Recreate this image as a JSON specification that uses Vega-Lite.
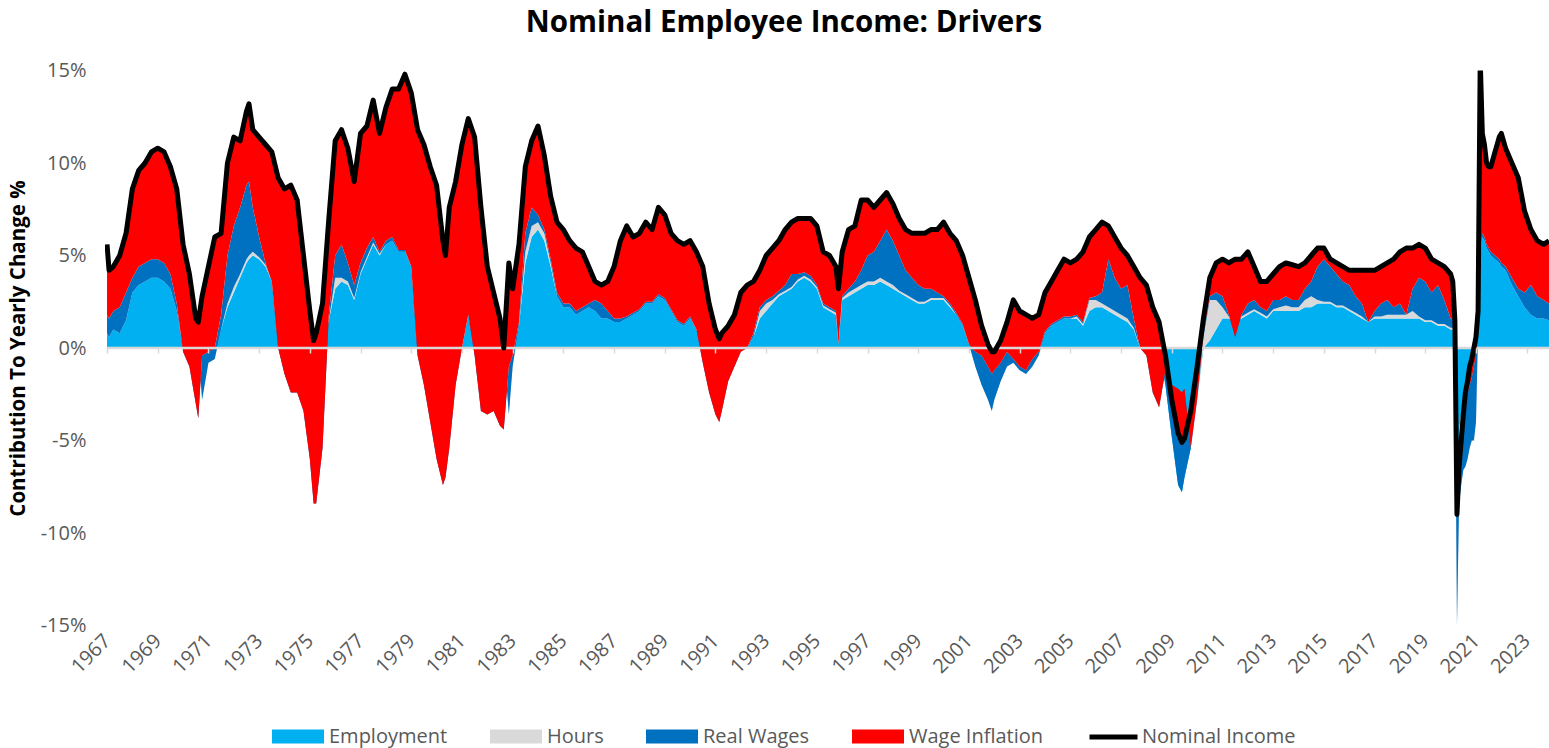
{
"$schema": "https://vega.github.io/schema/vega-lite/v6.json",
"width": 1444, "height": 555,
"autosize": {"type": "none"},
"padding": {"left": 105, "top": 70.5, "right": 0, "bottom": 122.5},
"background": "white",
"title": {"text": "Nominal Employee Income: Drivers", "font": "Open Sans", "fontSize": 29.5, "fontWeight": "bold", "color": "black", "anchor": "middle", "dx": -43, "offset": 22},
"config": {
  "view": {"stroke": null},
  "font": "Open Sans",
  "legend": {"labelFont": "Open Sans", "labelFontSize": 20, "labelColor": "#595959", "orient": "none", "direction": "horizontal", "title": null}
},
"data": {"values": [
{"t":1967.0,"e":0.8,"h":0.8,"r":1.8,"n":5.6},
{"t":1967.08,"e":0.6,"h":0.6,"r":1.6,"n":4.2},
{"t":1967.25,"e":1.0,"h":1.0,"r":2.0,"n":4.4},
{"t":1967.5,"e":0.8,"h":0.8,"r":2.2,"n":5.0},
{"t":1967.75,"e":1.5,"h":1.5,"r":3.0,"n":6.2},
{"t":1968.0,"e":3.0,"h":3.0,"r":3.8,"n":8.6},
{"t":1968.25,"e":3.4,"h":3.4,"r":4.4,"n":9.6},
{"t":1968.5,"e":3.6,"h":3.6,"r":4.6,"n":10.0},
{"t":1968.75,"e":3.8,"h":3.8,"r":4.8,"n":10.6},
{"t":1969.0,"e":3.8,"h":3.8,"r":4.8,"n":10.8},
{"t":1969.25,"e":3.6,"h":3.6,"r":4.6,"n":10.6},
{"t":1969.5,"e":3.2,"h":3.2,"r":4.0,"n":9.8},
{"t":1969.75,"e":2.0,"h":2.0,"r":2.4,"n":8.6},
{"t":1970.0,"e":0,"h":0,"r":-0.2,"n":5.6},
{"t":1970.25,"e":0,"h":0,"r":-1.0,"n":4.0},
{"t":1970.5,"e":0,"h":0,"r":-3.0,"n":1.6},
{"t":1970.6,"e":0,"h":0,"r":-3.8,"n":1.4},
{"t":1970.75,"e":0,"h":-2.8,"r":-0.4,"n":2.8},
{"t":1971.0,"e":0,"h":-0.8,"r":-0.2,"n":4.4},
{"t":1971.25,"e":0,"h":-0.6,"r":0,"n":6.0},
{"t":1971.5,"e":1.0,"h":1.0,"r":1.8,"n":6.2},
{"t":1971.75,"e":2.2,"h":2.4,"r":5.0,"n":10.0},
{"t":1972.0,"e":3.0,"h":3.3,"r":6.6,"n":11.4},
{"t":1972.25,"e":3.8,"h":4.0,"r":7.6,"n":11.2},
{"t":1972.5,"e":4.6,"h":4.8,"r":8.8,"n":12.8},
{"t":1972.6,"e":4.8,"h":5.0,"r":9.0,"n":13.2},
{"t":1972.75,"e":5.0,"h":5.2,"r":7.6,"n":11.8},
{"t":1973.0,"e":4.8,"h":4.9,"r":6.0,"n":11.4},
{"t":1973.25,"e":4.4,"h":4.5,"r":4.6,"n":11.0},
{"t":1973.5,"e":3.6,"h":3.6,"r":3.6,"n":10.6},
{"t":1973.75,"e":0.3,"h":0.3,"r":0,"n":9.2},
{"t":1974.0,"e":0,"h":0,"r":-1.4,"n":8.6},
{"t":1974.25,"e":0,"h":0,"r":-2.4,"n":8.8},
{"t":1974.5,"e":0,"h":0,"r":-2.4,"n":8.0},
{"t":1974.75,"e":0,"h":0,"r":-3.4,"n":5.0},
{"t":1975.0,"e":0,"h":0,"r":-6.0,"n":2.0},
{"t":1975.15,"e":0,"h":0,"r":-8.4,"n":0.4},
{"t":1975.25,"e":0,"h":0,"r":-8.4,"n":0.8},
{"t":1975.5,"e":0,"h":0,"r":-5.4,"n":2.4},
{"t":1975.75,"e":1.5,"h":1.5,"r":1.8,"n":7.0},
{"t":1976.0,"e":3.2,"h":3.8,"r":5.0,"n":11.2},
{"t":1976.25,"e":3.6,"h":3.8,"r":5.6,"n":11.8},
{"t":1976.5,"e":3.4,"h":3.6,"r":4.6,"n":10.8},
{"t":1976.75,"e":2.6,"h":2.7,"r":3.4,"n":9.0},
{"t":1977.0,"e":4.0,"h":4.1,"r":4.6,"n":11.6},
{"t":1977.25,"e":4.8,"h":4.9,"r":5.4,"n":12.0},
{"t":1977.5,"e":5.6,"h":5.7,"r":6.0,"n":13.4},
{"t":1977.75,"e":5.0,"h":5.1,"r":5.2,"n":11.6},
{"t":1978.0,"e":5.6,"h":5.6,"r":5.8,"n":13.0},
{"t":1978.25,"e":5.8,"h":5.8,"r":6.0,"n":14.0},
{"t":1978.5,"e":5.2,"h":5.2,"r":5.3,"n":14.0},
{"t":1978.75,"e":5.2,"h":5.2,"r":5.3,"n":14.8},
{"t":1979.0,"e":4.4,"h":4.4,"r":4.4,"n":13.8},
{"t":1979.25,"e":0,"h":0,"r":-0.4,"n":11.8},
{"t":1979.5,"e":0,"h":0,"r":-2.0,"n":11.0},
{"t":1979.75,"e":0,"h":0,"r":-4.0,"n":9.8},
{"t":1980.0,"e":0,"h":0,"r":-6.0,"n":8.8},
{"t":1980.25,"e":0,"h":0,"r":-7.4,"n":5.8},
{"t":1980.35,"e":0,"h":0,"r":-7.0,"n":5.0},
{"t":1980.5,"e":0,"h":0,"r":-5.4,"n":7.6},
{"t":1980.75,"e":0,"h":0,"r":-2.0,"n":9.0},
{"t":1981.0,"e":0,"h":0,"r":0,"n":11.0},
{"t":1981.25,"e":1.8,"h":1.8,"r":1.8,"n":12.4},
{"t":1981.5,"e":0,"h":0,"r":-0.4,"n":11.4},
{"t":1981.75,"e":0,"h":0,"r":-3.4,"n":7.6},
{"t":1982.0,"e":0,"h":0,"r":-3.6,"n":4.4},
{"t":1982.25,"e":0,"h":0,"r":-3.4,"n":3.0},
{"t":1982.5,"e":0,"h":0,"r":-4.2,"n":1.6},
{"t":1982.65,"e":0,"h":0,"r":-4.4,"n":0.0},
{"t":1982.85,"e":0,"h":-3.6,"r":-1.0,"n":4.6},
{"t":1983.0,"e":0,"h":-1.0,"r":-0.4,"n":3.2},
{"t":1983.25,"e":1.2,"h":1.2,"r":1.4,"n":5.6},
{"t":1983.5,"e":4.6,"h":5.2,"r":6.2,"n":9.8},
{"t":1983.75,"e":6.0,"h":6.6,"r":7.6,"n":11.2},
{"t":1984.0,"e":6.4,"h":6.8,"r":7.2,"n":12.0},
{"t":1984.25,"e":5.8,"h":6.2,"r":6.4,"n":10.4},
{"t":1984.5,"e":4.4,"h":4.6,"r":4.8,"n":8.2},
{"t":1984.75,"e":2.8,"h":2.8,"r":3.0,"n":6.8},
{"t":1985.0,"e":2.2,"h":2.2,"r":2.4,"n":6.4},
{"t":1985.25,"e":2.2,"h":2.2,"r":2.4,"n":5.8},
{"t":1985.5,"e":1.8,"h":1.8,"r":2.0,"n":5.4},
{"t":1985.75,"e":2.0,"h":2.0,"r":2.2,"n":5.2},
{"t":1986.0,"e":2.2,"h":2.2,"r":2.4,"n":4.4},
{"t":1986.25,"e":2.0,"h":2.0,"r":2.6,"n":3.6},
{"t":1986.5,"e":1.6,"h":1.6,"r":2.4,"n":3.4},
{"t":1986.75,"e":1.6,"h":1.6,"r":2.0,"n":3.6},
{"t":1987.0,"e":1.4,"h":1.4,"r":1.6,"n":4.4},
{"t":1987.25,"e":1.4,"h":1.4,"r":1.6,"n":5.8},
{"t":1987.5,"e":1.6,"h":1.6,"r":1.7,"n":6.6},
{"t":1987.75,"e":1.8,"h":1.8,"r":1.9,"n":6.0},
{"t":1988.0,"e":2.0,"h":2.0,"r":2.1,"n":6.2},
{"t":1988.25,"e":2.4,"h":2.4,"r":2.5,"n":6.8},
{"t":1988.5,"e":2.4,"h":2.4,"r":2.5,"n":6.4},
{"t":1988.75,"e":2.8,"h":2.8,"r":2.9,"n":7.6},
{"t":1989.0,"e":2.6,"h":2.6,"r":2.7,"n":7.2},
{"t":1989.25,"e":2.0,"h":2.0,"r":2.1,"n":6.2},
{"t":1989.5,"e":1.4,"h":1.4,"r":1.5,"n":5.8},
{"t":1989.75,"e":1.2,"h":1.2,"r":1.3,"n":5.6},
{"t":1990.0,"e":1.6,"h":1.6,"r":1.7,"n":5.8},
{"t":1990.25,"e":1.0,"h":1.0,"r":1.0,"n":5.2},
{"t":1990.5,"e":0,"h":0,"r":-0.8,"n":4.4},
{"t":1990.75,"e":0,"h":0,"r":-2.4,"n":2.4},
{"t":1991.0,"e":0,"h":0,"r":-3.6,"n":1.0},
{"t":1991.15,"e":0,"h":0,"r":-4.0,"n":0.5},
{"t":1991.25,"e":0,"h":0,"r":-3.4,"n":0.8},
{"t":1991.5,"e":0,"h":0,"r":-1.8,"n":1.2},
{"t":1991.75,"e":0,"h":0,"r":-1.0,"n":1.8},
{"t":1992.0,"e":0,"h":0,"r":-0.2,"n":3.0},
{"t":1992.25,"e":0,"h":0,"r":0,"n":3.4},
{"t":1992.5,"e":0.6,"h":0.6,"r":0.8,"n":3.6},
{"t":1992.75,"e":1.6,"h":2.0,"r":2.2,"n":4.2},
{"t":1993.0,"e":2.0,"h":2.4,"r":2.6,"n":5.0},
{"t":1993.25,"e":2.4,"h":2.6,"r":2.8,"n":5.4},
{"t":1993.5,"e":2.8,"h":2.9,"r":3.1,"n":5.8},
{"t":1993.75,"e":3.0,"h":3.1,"r":3.4,"n":6.4},
{"t":1994.0,"e":3.2,"h":3.3,"r":4.0,"n":6.8},
{"t":1994.25,"e":3.6,"h":3.7,"r":4.0,"n":7.0},
{"t":1994.5,"e":3.8,"h":3.9,"r":4.1,"n":7.0},
{"t":1994.75,"e":3.6,"h":3.7,"r":3.9,"n":7.0},
{"t":1995.0,"e":3.2,"h":3.3,"r":3.4,"n":6.6},
{"t":1995.25,"e":2.2,"h":2.3,"r":2.4,"n":5.2},
{"t":1995.5,"e":2.0,"h":2.1,"r":2.2,"n":5.0},
{"t":1995.75,"e":1.8,"h":1.9,"r":2.0,"n":4.4},
{"t":1995.85,"e":0.2,"h":0.2,"r":0.2,"n":3.2},
{"t":1996.0,"e":2.6,"h":2.7,"r":2.8,"n":5.2},
{"t":1996.25,"e":2.8,"h":3.0,"r":3.2,"n":6.4},
{"t":1996.5,"e":3.0,"h":3.2,"r":3.6,"n":6.6},
{"t":1996.75,"e":3.2,"h":3.4,"r":4.2,"n":8.0},
{"t":1997.0,"e":3.4,"h":3.6,"r":5.0,"n":8.0},
{"t":1997.25,"e":3.4,"h":3.6,"r":5.2,"n":7.6},
{"t":1997.5,"e":3.6,"h":3.8,"r":5.8,"n":8.0},
{"t":1997.75,"e":3.4,"h":3.6,"r":6.4,"n":8.4},
{"t":1998.0,"e":3.2,"h":3.4,"r":5.8,"n":7.8},
{"t":1998.25,"e":3.0,"h":3.1,"r":5.0,"n":7.0},
{"t":1998.5,"e":2.8,"h":2.9,"r":4.2,"n":6.4},
{"t":1998.75,"e":2.6,"h":2.7,"r":3.8,"n":6.2},
{"t":1999.0,"e":2.4,"h":2.5,"r":3.4,"n":6.2},
{"t":1999.25,"e":2.4,"h":2.5,"r":3.2,"n":6.2},
{"t":1999.5,"e":2.6,"h":2.7,"r":3.2,"n":6.4},
{"t":1999.75,"e":2.6,"h":2.7,"r":3.0,"n":6.4},
{"t":2000.0,"e":2.6,"h":2.7,"r":2.8,"n":6.8},
{"t":2000.25,"e":2.2,"h":2.3,"r":2.4,"n":6.2},
{"t":2000.5,"e":1.8,"h":1.8,"r":1.9,"n":5.8},
{"t":2000.75,"e":1.2,"h":1.2,"r":1.3,"n":5.0},
{"t":2001.0,"e":0.2,"h":0.2,"r":0.2,"n":3.8},
{"t":2001.25,"e":0,"h":-1.0,"r":-0.2,"n":2.6},
{"t":2001.5,"e":0,"h":-2.0,"r":-0.4,"n":1.2},
{"t":2001.75,"e":0,"h":-2.8,"r":-1.0,"n":0.2},
{"t":2001.9,"e":0,"h":-3.4,"r":-1.4,"n":-0.2},
{"t":2002.0,"e":0,"h":-2.8,"r":-1.2,"n":-0.2},
{"t":2002.25,"e":0,"h":-1.8,"r":-0.8,"n":0.4},
{"t":2002.5,"e":0,"h":-1.0,"r":-0.2,"n":1.4},
{"t":2002.75,"e":0,"h":-0.8,"r":-0.6,"n":2.6},
{"t":2003.0,"e":0,"h":-1.2,"r":-1.0,"n":2.0},
{"t":2003.25,"e":0,"h":-1.4,"r":-1.2,"n":1.8},
{"t":2003.5,"e":0,"h":-1.0,"r":-0.6,"n":1.6},
{"t":2003.75,"e":0,"h":-0.4,"r":-0.2,"n":1.8},
{"t":2004.0,"e":0.8,"h":0.8,"r":0.9,"n":3.0},
{"t":2004.25,"e":1.2,"h":1.2,"r":1.3,"n":3.6},
{"t":2004.5,"e":1.4,"h":1.4,"r":1.5,"n":4.2},
{"t":2004.75,"e":1.6,"h":1.6,"r":1.7,"n":4.8},
{"t":2005.0,"e":1.6,"h":1.6,"r":1.7,"n":4.6},
{"t":2005.25,"e":1.6,"h":1.7,"r":1.8,"n":4.8},
{"t":2005.5,"e":1.2,"h":1.3,"r":1.4,"n":5.2},
{"t":2005.75,"e":2.0,"h":2.6,"r":2.7,"n":6.0},
{"t":2006.0,"e":2.2,"h":2.6,"r":2.8,"n":6.4},
{"t":2006.25,"e":2.2,"h":2.4,"r":3.0,"n":6.8},
{"t":2006.5,"e":2.0,"h":2.2,"r":4.8,"n":6.6},
{"t":2006.75,"e":1.8,"h":2.0,"r":3.8,"n":6.0},
{"t":2007.0,"e":1.6,"h":1.8,"r":3.2,"n":5.4},
{"t":2007.25,"e":1.4,"h":1.6,"r":3.4,"n":5.0},
{"t":2007.5,"e":1.0,"h":1.1,"r":1.6,"n":4.4},
{"t":2007.75,"e":0,"h":0,"r":0,"n":3.8},
{"t":2008.0,"e":0,"h":0,"r":-0.4,"n":3.4},
{"t":2008.25,"e":0,"h":0,"r":-2.4,"n":2.2},
{"t":2008.5,"e":0,"h":0,"r":-3.2,"n":1.4},
{"t":2008.75,"e":-2.0,"h":-2.0,"r":-1.2,"n":-0.4},
{"t":2009.0,"e":-4.8,"h":-4.8,"r":-2.0,"n":-2.8},
{"t":2009.25,"e":-7.4,"h":-7.4,"r":-2.2,"n":-4.6},
{"t":2009.4,"e":-7.8,"h":-7.8,"r":-2.4,"n":-5.1},
{"t":2009.5,"e":-7.0,"h":-7.0,"r":-2.2,"n":-4.9},
{"t":2009.75,"e":-5.4,"h":-5.4,"r":-5.4,"n":-3.4},
{"t":2010.0,"e":-2.8,"h":-2.8,"r":-2.8,"n":-1.0},
{"t":2010.25,"e":0,"h":0.6,"r":0.8,"n":1.6},
{"t":2010.5,"e":0.4,"h":2.6,"r":2.8,"n":3.8},
{"t":2010.75,"e":1.0,"h":2.6,"r":3.0,"n":4.6},
{"t":2011.0,"e":1.6,"h":2.2,"r":2.8,"n":4.8},
{"t":2011.25,"e":1.6,"h":1.7,"r":1.8,"n":4.6},
{"t":2011.5,"e":1.4,"h":1.4,"r":0.6,"n":4.8},
{"t":2011.75,"e":1.6,"h":1.7,"r":1.8,"n":4.8},
{"t":2012.0,"e":1.8,"h":1.9,"r":2.4,"n":5.2},
{"t":2012.25,"e":2.0,"h":2.1,"r":2.6,"n":4.4},
{"t":2012.5,"e":1.8,"h":1.9,"r":2.2,"n":3.6},
{"t":2012.75,"e":1.6,"h":1.7,"r":2.0,"n":3.6},
{"t":2013.0,"e":2.0,"h":2.1,"r":2.6,"n":4.0},
{"t":2013.25,"e":2.0,"h":2.2,"r":2.6,"n":4.4},
{"t":2013.5,"e":2.0,"h":2.3,"r":2.8,"n":4.6},
{"t":2013.75,"e":2.0,"h":2.2,"r":2.6,"n":4.5},
{"t":2014.0,"e":2.0,"h":2.2,"r":2.6,"n":4.4},
{"t":2014.25,"e":2.2,"h":2.6,"r":3.2,"n":4.6},
{"t":2014.5,"e":2.2,"h":2.8,"r":3.6,"n":5.0},
{"t":2014.75,"e":2.4,"h":2.6,"r":4.4,"n":5.4},
{"t":2015.0,"e":2.4,"h":2.5,"r":4.8,"n":5.4},
{"t":2015.25,"e":2.4,"h":2.5,"r":4.4,"n":4.8},
{"t":2015.5,"e":2.2,"h":2.3,"r":4.0,"n":4.6},
{"t":2015.75,"e":2.2,"h":2.3,"r":3.6,"n":4.4},
{"t":2016.0,"e":2.0,"h":2.1,"r":3.4,"n":4.2},
{"t":2016.25,"e":1.8,"h":1.9,"r":2.8,"n":4.2},
{"t":2016.5,"e":1.6,"h":1.7,"r":2.4,"n":4.2},
{"t":2016.75,"e":1.4,"h":1.4,"r":1.4,"n":4.2},
{"t":2017.0,"e":1.6,"h":1.7,"r":2.0,"n":4.2},
{"t":2017.25,"e":1.6,"h":1.7,"r":2.4,"n":4.4},
{"t":2017.5,"e":1.6,"h":1.8,"r":2.6,"n":4.6},
{"t":2017.75,"e":1.6,"h":1.8,"r":2.2,"n":4.8},
{"t":2018.0,"e":1.6,"h":1.8,"r":2.4,"n":5.2},
{"t":2018.25,"e":1.6,"h":1.8,"r":1.8,"n":5.4},
{"t":2018.5,"e":1.6,"h":2.0,"r":3.2,"n":5.4},
{"t":2018.75,"e":1.6,"h":1.7,"r":3.8,"n":5.6},
{"t":2019.0,"e":1.4,"h":1.5,"r":3.6,"n":5.4},
{"t":2019.25,"e":1.4,"h":1.5,"r":3.0,"n":4.8},
{"t":2019.5,"e":1.2,"h":1.3,"r":3.4,"n":4.6},
{"t":2019.75,"e":1.2,"h":1.3,"r":2.6,"n":4.4},
{"t":2020.0,"e":1.0,"h":1.1,"r":1.6,"n":4.0},
{"t":2020.083,"e":1.0,"h":1.1,"r":1.6,"n":3.6},
{"t":2020.167,"e":0.6,"h":0.6,"r":0.8,"n":1.5},
{"t":2020.25,"e":-9.0,"h":-15.0,"r":-9.0,"n":-9.0},
{"t":2020.333,"e":-4.4,"h":-8.4,"r":-6.4,"n":-6.4},
{"t":2020.417,"e":-3.6,"h":-7.4,"r":-5.0,"n":-5.0},
{"t":2020.5,"e":-3.2,"h":-6.6,"r":-3.6,"n":-3.6},
{"t":2020.583,"e":-2.6,"h":-6.4,"r":-2.8,"n":-2.4},
{"t":2020.667,"e":-2.0,"h":-6.0,"r":-2.4,"n":-1.8},
{"t":2020.75,"e":-2.0,"h":-5.4,"r":-2.0,"n":-1.0},
{"t":2020.833,"e":-1.6,"h":-5.0,"r":-1.6,"n":-0.6},
{"t":2020.917,"e":-1.0,"h":-5.0,"r":-1.0,"n":0.0},
{"t":2021.0,"e":-0.6,"h":-4.0,"r":-0.4,"n":0.6},
{"t":2021.083,"e":1.0,"h":1.0,"r":1.2,"n":2.0},
{"t":2021.167,"e":5.0,"h":5.0,"r":5.2,"n":15.6},
{"t":2021.25,"e":6.0,"h":6.0,"r":6.2,"n":11.6},
{"t":2021.333,"e":5.8,"h":5.8,"r":6.0,"n":11.0},
{"t":2021.417,"e":5.4,"h":5.4,"r":5.6,"n":10.0},
{"t":2021.5,"e":5.2,"h":5.2,"r":5.4,"n":9.8},
{"t":2021.583,"e":5.0,"h":5.0,"r":5.2,"n":9.8},
{"t":2021.75,"e":4.8,"h":4.8,"r":5.0,"n":10.6},
{"t":2021.917,"e":4.6,"h":4.6,"r":4.8,"n":11.4},
{"t":2022.0,"e":4.4,"h":4.4,"r":4.6,"n":11.6},
{"t":2022.167,"e":4.2,"h":4.2,"r":4.4,"n":10.8},
{"t":2022.417,"e":3.4,"h":3.4,"r":3.8,"n":10.0},
{"t":2022.667,"e":2.8,"h":2.8,"r":3.2,"n":9.2},
{"t":2022.917,"e":2.2,"h":2.2,"r":3.0,"n":7.4},
{"t":2023.167,"e":1.8,"h":1.8,"r":3.4,"n":6.4},
{"t":2023.417,"e":1.6,"h":1.6,"r":2.8,"n":5.8},
{"t":2023.667,"e":1.6,"h":1.6,"r":2.6,"n":5.6},
{"t":2023.88,"e":1.5,"h":1.5,"r":2.4,"n":5.8}
]},
"resolve": {"axis": {"x": "independent"}},
"layer": [
 {"mark": {"type": "area", "clip": true},
  "encoding": {
   "x": {"field": "t", "type": "quantitative", "scale": {"domain": [1966.92, 2023.88], "nice": false, "zero": false},
         "axis": {"values": [1967,1969,1971,1973,1975,1977,1979,1981,1983,1985,1987,1989,1991,1993,1995,1997,1999,2001,2003,2005,2007,2009,2011,2013,2015,2017,2019,2021,2023], "format": "d", "labelAngle": -45, "labelAlign": "right", "labelBaseline": "middle", "labelPadding": 12, "labelFont": "Open Sans", "labelFontSize": 20, "labelColor": "#595959", "ticks": false, "domain": false, "grid": false, "title": null, "labelOverlap": false, "labelFlush": false, "labelBound": false}},
   "y": {"field": "e", "type": "quantitative", "scale": {"domain": [-15, 15], "nice": false}, "title": "Contribution To Yearly Change %",
         "axis": {"values": [-15,-10,-5,0,5,10,15], "labelExpr": "datum.value + '%'", "labelFont": "Open Sans", "labelFontSize": 20, "labelColor": "#595959", "ticks": false, "domain": false, "grid": false, "labelPadding": 19, "titleFont": "Open Sans", "titleFontSize": 20.5, "titleFontWeight": "bold", "titleColor": "black", "titlePadding": 12}},
   "y2": {"datum": 0},
   "fill": {"datum": "Employment", "type": "nominal", "title": null,
            "scale": {"domain": ["Employment", "Hours", "Real Wages", "Wage Inflation"], "range": ["#00B0F0", "#D9D9D9", "#0070C0", "#FF0000"]},
            "legend": {"orient": "none", "legendX": 167, "legendY": 640, "direction": "horizontal", "symbolType": "M-1,-0.27L1,-0.27L1,0.27L-1,0.27Z", "symbolSize": 2704, "symbolStrokeWidth": 0, "labelOffset": 5, "columnPadding": 42, "title": null}}
  }},
 {"mark": {"type": "area", "clip": true},
  "encoding": {
   "x": {"field": "t", "type": "quantitative", "axis": null},
   "y": {"field": "h", "type": "quantitative", "title": "Contribution To Yearly Change %"},
   "y2": {"field": "e"},
   "fill": {"datum": "Hours", "type": "nominal", "title": null}
  }},
 {"mark": {"type": "area", "clip": true},
  "encoding": {
   "x": {"field": "t", "type": "quantitative", "axis": null},
   "y": {"field": "r", "type": "quantitative", "title": "Contribution To Yearly Change %"},
   "y2": {"field": "h"},
   "fill": {"datum": "Real Wages", "type": "nominal", "title": null}
  }},
 {"mark": {"type": "area", "clip": true},
  "encoding": {
   "x": {"field": "t", "type": "quantitative", "axis": null},
   "y": {"field": "n", "type": "quantitative", "title": "Contribution To Yearly Change %"},
   "y2": {"field": "r"},
   "fill": {"datum": "Wage Inflation", "type": "nominal", "title": null}
  }},
 {"mark": {"type": "line", "color": "#D9D9D9", "strokeWidth": 2.5, "clip": true},
  "encoding": {
   "x": {"field": "t", "type": "quantitative",
         "axis": {"values": [1967,1969,1971,1973,1975,1977,1979,1981,1983,1985,1987,1989,1991,1993,1995,1997,1999,2001,2003,2005,2007,2009,2011,2013,2015,2017,2019,2021,2023], "labels": false, "ticks": true, "tickSize": 5, "tickColor": "#D9D9D9", "tickWidth": 1.5, "domain": false, "grid": false, "title": null, "offset": -277.5, "zindex": 1, "orient": "bottom"}},
   "y": {"datum": 0, "type": "quantitative", "title": "Contribution To Yearly Change %"}
  }},
 {"mark": {"type": "line", "strokeWidth": 5, "clip": true, "strokeJoin": "round"},
  "encoding": {
   "x": {"field": "t", "type": "quantitative", "axis": null},
   "y": {"field": "n", "type": "quantitative", "title": "Contribution To Yearly Change %"},
   "stroke": {"datum": "Nominal Income", "type": "nominal", "title": null,
              "scale": {"domain": ["Nominal Income"], "range": ["#000000"]},
              "legend": {"orient": "none", "legendX": 982, "legendY": 640, "direction": "horizontal", "symbolType": "stroke", "symbolSize": 2304, "symbolStrokeWidth": 5, "labelOffset": 2, "title": null}}
  }}
]
}
